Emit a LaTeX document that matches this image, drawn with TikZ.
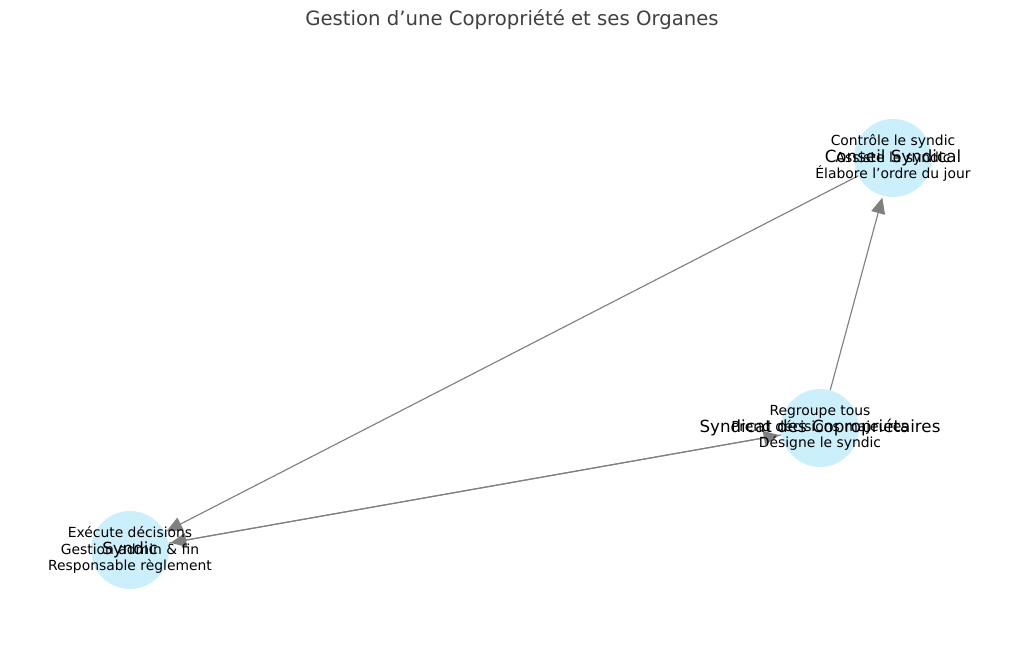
\documentclass[tikz,border=0pt]{standalone}
\usepackage{fontspec}
\setmainfont[Ligatures=ResetAll]{DejaVu Sans}
\usetikzlibrary{arrows.meta}

\tikzset{
	organe/.style={circle, fill=cyan!20, draw=none, minimum size=1.56cm, inner sep=0pt},
	nomlabel/.style={font=\fontsize{9.5}{10.5}\selectfont, text=black},
	rolelabel/.style={font=\fontsize{7.9}{9.2}\selectfont, align=center, text=black},
	lien/.style={draw=gray, line width=0.65pt, -{Triangle[length=9pt,width=8pt]}, shorten >=1pt}
}

\begin{document}
\begin{tikzpicture}
	\useasboundingbox (0,0) rectangle (20.48,13.32);
	\node[font=\fontsize{11.2}{13}\selectfont, text=black!75] (titre) at (10.24,12.92) {Gestion d'une Copropriété et ses Organes};

	\node[organe] (conseil) at (17.86,10.16) {};
	\node[organe] (syndicat) at (16.40,4.76) {};
	\node[organe] (syndic) at (2.60,2.32) {};

	\draw[lien] (syndicat) -- (conseil);
	\draw[lien] (conseil) -- (syndic);
	\draw[lien] (syndicat) -- (syndic);
	\draw[lien] (syndic) -- (syndicat);

	\node[nomlabel] at (conseil) {Conseil Syndical};
	\node[nomlabel] at (syndicat) {Syndicat des Copropriétaires};
	\node[nomlabel] at (syndic) {Syndic};
	\node[rolelabel] at (conseil) {Contrôle le syndic\\Assiste le syndic\\Élabore l'ordre du jour};
	\node[rolelabel] at (syndicat) {Regroupe tous\\Prend décisions majeures\\Désigne le syndic};
	\node[rolelabel] at (syndic) {Exécute décisions\\Gestion admin \& fin\\Responsable règlement};
\end{tikzpicture}
\end{document}
